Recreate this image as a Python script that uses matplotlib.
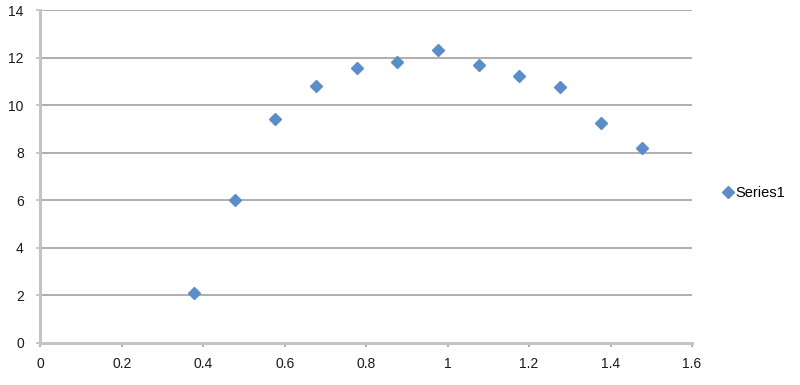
import matplotlib
matplotlib.use("Agg")
import matplotlib.pyplot as plt

x_values = [0.377, 0.477, 0.577, 0.677, 0.777, 0.876, 0.977, 1.077, 1.176, 1.277, 1.376, 1.477]
y_values = [2.09, 6.0, 9.44, 10.83, 11.56, 11.81, 12.33, 11.70, 11.23, 10.78, 9.24, 8.21]
series_name = "Series1"
x_ticks = [0, 0.2, 0.4, 0.6, 0.8, 1.0, 1.2, 1.4, 1.6]
x_tick_labels = ["0", "0.2", "0.4", "0.6", "0.8", "1", "1.2", "1.4", "1.6"]
y_ticks = [0, 2, 4, 6, 8, 10, 12, 14]

plt.rcParams['font.family'] = ['Liberation Sans', 'DejaVu Sans']

fig = plt.figure(figsize=(8, 3.85), dpi=100)
ax = fig.add_axes([0.0506, 0.1099, 0.865 - 0.0506, 0.9732 - 0.1099])

ax.set_xlim(0, 1.6)
ax.set_ylim(0, 14)
ax.set_xticks(x_ticks)
ax.set_xticklabels(x_tick_labels)
ax.set_yticks(y_ticks)

ax.grid(axis='y', color='#a8a8a8', linewidth=1.3, zorder=0)
ax.set_axisbelow(True)

for s in ['top', 'right']:
    ax.spines[s].set_visible(False)
for s in ['left', 'bottom']:
    ax.spines[s].set_color('#c4c4c4')
    ax.spines[s].set_linewidth(2.2)

ax.tick_params(axis='x', direction='out', length=3, width=1.2, color='#a0a0a0',
               labelsize=10, labelcolor='#1a1a1a', pad=7)
ax.tick_params(axis='y', direction='out', length=3, width=1.2, color='#bdbdbd',
               labelsize=10, labelcolor='#1a1a1a', pad=9)

ax.plot(x_values, y_values, linestyle='none', marker='D', markersize=6.0,
        color='#5b8ec9', markeredgecolor='#5b8ec9', label=series_name, zorder=3,
        clip_on=False)

leg = ax.legend(loc='center left', bbox_to_anchor=(1.049, 0.45), frameon=False,
                fontsize=10.5, handlelength=0.6, handletextpad=0.15, borderaxespad=0,
                borderpad=0)

fig.savefig("out.png", dpi=100)
